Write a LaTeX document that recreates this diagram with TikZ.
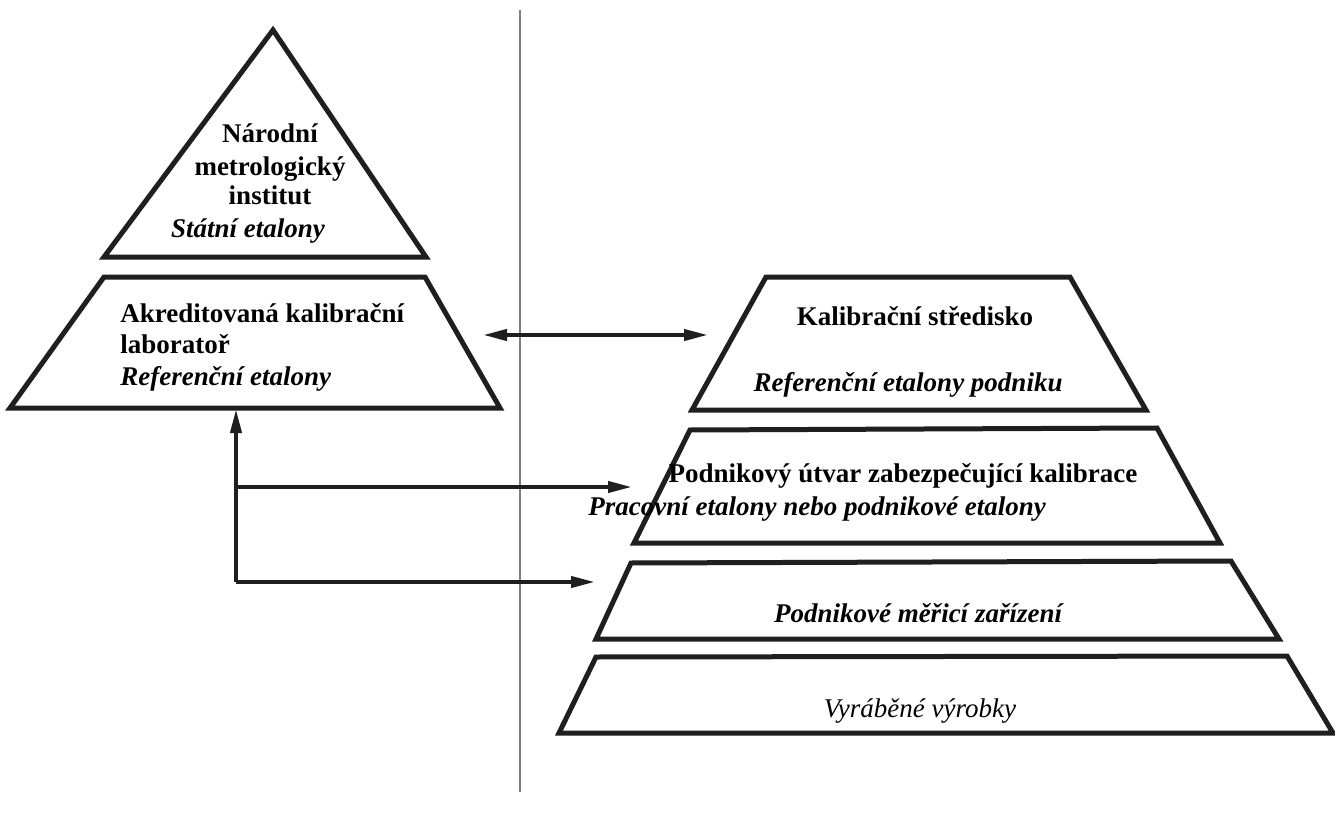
\documentclass[tikz,border=0pt]{standalone}
\usepackage{fontspec}
\setmainfont{Liberation Serif}
\usetikzlibrary{arrows.meta}
\begin{document}
\begin{tikzpicture}[x=0.5pt,y=-0.5pt,
  frame/.style={line width=2.5pt,line join=miter,black!88},
  conn/.style={line width=2pt,black!88,-{Triangle[length=12pt,width=5.5pt]}},
  twoway/.style={line width=2pt,black!88,{Triangle[length=12pt,width=5.5pt]}-{Triangle[length=12pt,width=5.5pt]}},
  lbl/.style={inner sep=0pt,anchor=base,font=\fontsize{13.5}{16}\selectfont\bfseries},
  ilbl/.style={lbl,font=\fontsize{13.5}{16}\selectfont\bfseries\itshape},
  plbl/.style={lbl,font=\fontsize{13.5}{16}\selectfont\itshape},
  divider/.style={line width=0.75pt,black!50}]
\useasboundingbox (0,0) rectangle (1335,819);
% divider
\coordinate (dtop) at (520,10);
\coordinate (dbot) at (520,792);
\draw[divider] (dtop) -- (dbot);
% triangle: Narodni metrologicky institut
\draw[frame] (273,30) -- (426,257) -- (104,257) -- cycle;
\node[lbl] (nmi1) at (270,142) {Národní};
\node[lbl] (nmi2) at (270,175) {metrologický};
\node[lbl] (nmi3) at (270,204) {institut};
\node[ilbl] (nmi4) at (248,237) {Státní etalony};
% trapezoid: Akreditovana kalibracni laborator
\draw[frame] (104,277) -- (425,277) -- (500,408) -- (10,408) -- cycle;
\node[lbl,anchor=base west] (akl1) at (120,322) {Akreditovaná kalibrační};
\node[lbl,anchor=base west] (akl2) at (120,353) {laboratoř};
\node[ilbl,anchor=base west] (akl3) at (120,385) {Referenční etalony};
% trapezoid: Kalibracni stredisko
\draw[frame] (766,277) -- (1070,277) -- (1146,410) -- (692,410) -- cycle;
\node[lbl] (ks1) at (915,325) {Kalibrační středisko};
\node[ilbl] (ks2) at (908,391) {Referenční etalony podniku};
% trapezoid: Podnikovy utvar
\draw[frame] (690,430) -- (1157,428) -- (1220,543) -- (634,543) -- cycle;
\node[lbl] (pu1) at (903,482) {Podnikový útvar zabezpečující kalibrace};
\node[ilbl] (pu2) at (817,515) {Pracovní etalony nebo podnikové etalony};
% trapezoid: Podnikove merici zarizeni
\draw[frame] (631,563) -- (1231,561) -- (1279,639) -- (596,639) -- cycle;
\node[ilbl] (pm) at (918,622) {Podnikové měřicí zařízení};
% trapezoid: Vyrabene vyrobky
\draw[frame] (596,657) -- (1287,656) -- (1333,733) -- (559,733) -- cycle;
\node[plbl] (vv) at (920,717) {Vyráběné výrobky};
% connectors
\coordinate (dl) at (483,335);
\coordinate (dr) at (708,335);
\draw[twoway] (dl) -- (dr);
\coordinate (corner) at (236,582);
\coordinate (tip) at (236,409);
\coordinate (branch) at (236,487);
\coordinate (toPU) at (632,487);
\coordinate (toPM) at (595,582);
\draw[conn] (corner) -- (tip);
\draw[conn] (branch) -- (toPU);
\draw[conn] (corner) -- (toPM);
\end{tikzpicture}
\end{document}
